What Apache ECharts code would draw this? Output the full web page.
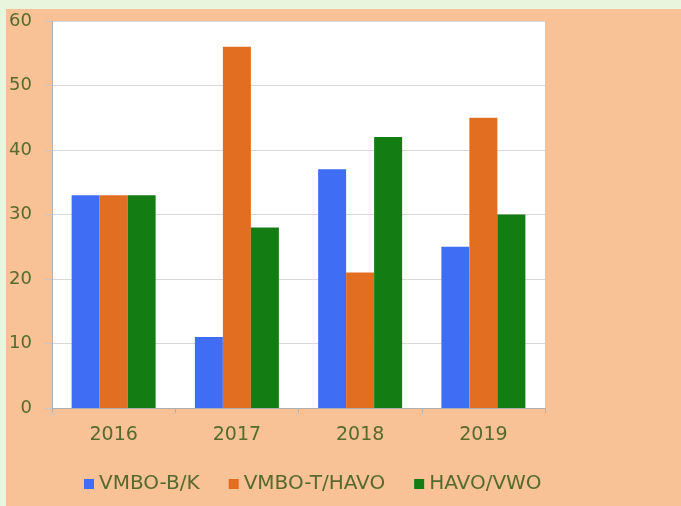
<!DOCTYPE html>
<html><head><meta charset="utf-8">
<script src="https://cdn.jsdelivr.net/npm/echarts@6/dist/echarts.min.js"></script>
<style>
html,body{margin:0;padding:0;background:#F8C196;}
#band{position:absolute;left:0;top:0;width:681px;height:9px;background:#E9F5DC;}
#strip{position:absolute;left:0;top:0;width:6px;height:506px;background:#E9F5DC;}
#c{position:absolute;left:0;top:0;width:681px;height:506px;}
</style></head>
<body>
<div id="band"></div><div id="strip"></div>
<div id="c"></div>
<script>
const categories = ['2016', '2017', '2018', '2019'];
const seriesNames = ['VMBO-B/K', 'VMBO-T/HAVO', 'HAVO/VWO'];
const vmboBK = [33, 11, 37, 25];
const vmboTHavo = [33, 56, 21, 45];
const havoVwo = [33, 28, 42, 30];
const colors = ['#3F6EF5', '#E26E22', '#137D14'];
const textColor = '#566A2E';
const font = 'DejaVu Sans';

const chart = echarts.init(document.getElementById('c'), null, {renderer: 'canvas'});
const values = [vmboBK, vmboTHavo, havoVwo];
chart.setOption({
  backgroundColor: 'transparent',
  animation: false,
  grid: {left: 52, right: 136, top: 21, bottom: 98, show: true, backgroundColor: '#ffffff', borderWidth: 0, containLabel: false},
  legend: {
    data: seriesNames, left: 79, top: 469, itemWidth: 10, itemHeight: 10, itemGap: 29,
    icon: 'rect',
    textStyle: {color: textColor, fontSize: 20, fontFamily: font}
  },
  xAxis: {
    type: 'category', data: categories,
    axisLine: {lineStyle: {color: '#B0B0B0', width: 1}},
    axisTick: {show: true, length: 5, lineStyle: {color: '#B0B0B0'}},
    axisLabel: {color: textColor, fontSize: 19, fontFamily: font, margin: 18}
  },
  yAxis: {
    type: 'value', min: 0, max: 60, interval: 10,
    axisLine: {show: true, lineStyle: {color: '#B0B0B0', width: 1}},
    axisTick: {show: true, length: 7, lineStyle: {color: '#C8C8C8'}},
    splitLine: {lineStyle: {color: '#D9D9D9', width: 1}},
    axisLabel: {color: textColor, fontSize: 18, fontFamily: font, margin: 20}
  },
  series: seriesNames.map((n, i) => ({
    name: n, type: 'bar', data: values[i], barWidth: 28, barGap: '0%',
    itemStyle: {color: colors[i]}
  }))
});
</script>
</body></html>
